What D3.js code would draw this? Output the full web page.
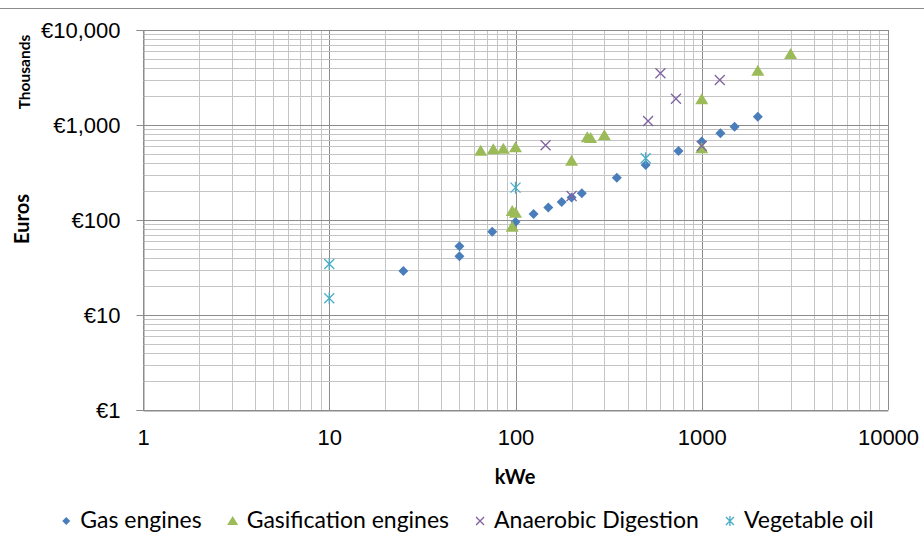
<!DOCTYPE html>
<html lang="en">
<head>
	<meta charset="utf-8">
	<title>Cost vs capacity</title>
	<script src="https://d3js.org/d3.v7.min.js" charset="utf-8"></script>
	<style>
		body {
		    margin: 0;
		    background: #fff;
		    font-family: "Lato", "Open Sans", sans-serif;
		}
		.label { fill: #000; font-size: 22px; }
		.title { fill: #000; font-size: 20px; font-weight: bold; }
		.legend text { fill: #000; font-size: 23px; }
	</style>
</head>
<body>
	<script>
		// kWe, thousands of euros
		var gasEngines = [[25, 29], [50, 53], [50, 41.5], [75, 75], [100, 95], [125, 116],
			[150, 135], [177, 155], [200, 172], [227, 191], [350, 278], [500, 379],
			[750, 532], [1000, 670], [1260, 818], [1500, 959], [2000, 1222]];
		var gasification = [[65, 536], [76, 555], [86, 563], [100, 582], [96, 124], [100, 119],
			[96, 85], [200, 421], [243, 742], [253, 730], [300, 779], [1000, 1863],
			[1000, 569], [2000, 3730], [3000, 5590]];
		var anaerobic = [[145, 611], [200, 179], [515, 1102], [600, 3500], [727, 1892],
			[1000, 600], [1250, 2977]];
		var vegOil = [[10, 34.4], [10, 15], [100, 219], [500, 446]];

		var seriesNames = ["Gas engines", "Gasification engines", "Anaerobic Digestion", "Vegetable oil"];
		var seriesColors = ["#4a7ebb", "#9bbb59", "#8064a2", "#4bacc6"];
		var xTickLabels = ["1", "10", "100", "1000", "10000"];
		var yTickLabels = ["\u20ac1", "\u20ac10", "\u20ac100", "\u20ac1,000", "\u20ac10,000"];

		var width = 924, height = 536;
		var plotLeft = 143, plotRight = 888, plotTop = 30, plotBottom = 410;

		var svg = d3.select("body").append("svg")
		    .attr("width", width)
		    .attr("height", height);

		// outer border line along the top
		svg.append("line")
		    .attr("x1", 0).attr("x2", width)
		    .attr("y1", 8.5).attr("y2", 8.5)
		    .attr("stroke", "#8c8c8c");

		var x = d3.scaleLog().domain([1, 10000]).range([plotLeft, plotRight]);
		var y = d3.scaleLog().domain([1, 10000]).range([plotBottom, plotTop]);

		var isMajor = function(v) { return Math.abs(Math.log10(v) - Math.round(Math.log10(v))) < 1e-9; };

		// gridlines
		var grid = svg.append("g");
		grid.selectAll(".vx")
		    .data(x.ticks())
		    .enter().append("line")
		    .attr("x1", function(d) { return Math.round(x(d)) + 0.5; })
		    .attr("x2", function(d) { return Math.round(x(d)) + 0.5; })
		    .attr("y1", plotTop).attr("y2", plotBottom)
		    .attr("stroke", function(d) { return isMajor(d) ? "#8c8c8c" : "#c4c4c4"; });
		grid.selectAll(".hy")
		    .data(y.ticks())
		    .enter().append("line")
		    .attr("y1", function(d) { return Math.round(y(d)) + 0.5; })
		    .attr("y2", function(d) { return Math.round(y(d)) + 0.5; })
		    .attr("x1", plotLeft).attr("x2", plotRight)
		    .attr("stroke", function(d) { return isMajor(d) ? "#8c8c8c" : "#c4c4c4"; });

		// y axis
		var yAxis = d3.axisLeft(y)
		    .tickValues([1, 10, 100, 1000, 10000])
		    .tickFormat(function(d, i) { return yTickLabels[i]; })
		    .tickSize(7)
		    .tickPadding(16);
		var gy = svg.append("g")
		    .attr("transform", "translate(" + (plotLeft + 0.5) + ",0)")
		    .call(yAxis);
		gy.select(".domain").attr("stroke", "#8c8c8c");
		gy.selectAll(".tick line").attr("stroke", "#8c8c8c");
		gy.selectAll(".tick text").attr("class", "label").attr("font-family", null).attr("font-size", null);

		// x axis
		var xAxis = d3.axisBottom(x)
		    .tickValues([1, 10, 100, 1000, 10000])
		    .tickFormat(function(d, i) { return xTickLabels[i]; })
		    .tickSize(0)
		    .tickPadding(19);
		var gx = svg.append("g")
		    .attr("transform", "translate(0," + (plotBottom + 0.5) + ")")
		    .call(xAxis);
		gx.select(".domain").attr("stroke", "#8c8c8c");
		gx.selectAll(".tick text").attr("class", "label").attr("font-family", null).attr("font-size", null);

		// axis titles
		svg.append("text")
		    .attr("class", "title")
		    .attr("transform", "translate(29,219) rotate(-90)")
		    .attr("text-anchor", "middle")
		    .text("Euros");
		svg.append("text")
		    .attr("class", "title")
		    .attr("transform", "translate(30,72) rotate(-90)")
		    .attr("text-anchor", "middle")
		    .style("font-size", "15.5px")
		    .text("Thousands");
		svg.append("text")
		    .attr("class", "title")
		    .attr("x", 515).attr("y", 484)
		    .attr("text-anchor", "middle")
		    .text("kWe");

		// marker shapes
		function marker(sel, kind, color, size) {
		    if (kind === 0) {
		        sel.append("path").attr("d", "M0,-" + size + "L" + size + ",0L0," + size + "L-" + size + ",0Z")
		            .attr("fill", color);
		    } else if (kind === 1) {
		        sel.append("path").attr("d", "M0,-" + size + "L" + (size + 0.5) + "," + (size - 1) + "L-" + (size + 0.5) + "," + (size - 1) + "Z")
		            .attr("fill", color);
		    } else if (kind === 2) {
		        sel.append("path").attr("d", "M-" + size + ",-" + size + "L" + size + "," + size + "M" + size + ",-" + size + "L-" + size + "," + size)
		            .attr("stroke", color).attr("stroke-width", 1.3).attr("fill", "none");
		    } else {
		        sel.append("path").attr("d", "M-" + size + ",-" + size + "L" + size + "," + size + "M" + size + ",-" + size + "L-" + size + "," + size + "M0,-" + (size + 1) + "L0," + (size + 1))
		            .attr("stroke", color).attr("stroke-width", 1.3).attr("fill", "none");
		    }
		}

		var allSeries = [gasEngines, gasification, anaerobic, vegOil];
		var sizes = [5, 6, 5, 5];
		[0, 1, 2, 3].forEach(function(k) {
		    svg.append("g").selectAll("g")
		        .data(allSeries[k])
		        .enter().append("g")
		        .attr("transform", function(d) { return "translate(" + x(d[0]) + "," + y(d[1]) + ")"; })
		        .each(function() { marker(d3.select(this), k, seriesColors[k], sizes[k]); });
		});

		// legend
		var legend = svg.append("g").attr("class", "legend");
		var items = legend.selectAll("g")
		    .data(seriesNames)
		    .enter().append("g");
		items.each(function(d, i) {
		    var g = d3.select(this);
		    var m = g.append("g").attr("transform", "translate(0,-7)");
		    marker(m, i, seriesColors[i], i === 1 ? 5 : 4);
		    g.append("text").attr("x", 14).text(d);
		});
		var gap = 31, pos = 0, offsets = [];
		items.each(function(d, i) {
		    offsets.push(pos);
		    pos += 14 + this.querySelector("text").getComputedTextLength() + gap;
		});
		var total = pos - gap;
		var start = 470 - total / 2;
		items.attr("transform", function(d, i) { return "translate(" + (start + offsets[i]) + ",528)"; });
	</script>
</body>
</html>
